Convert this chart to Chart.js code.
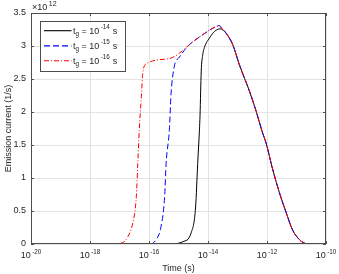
<!DOCTYPE html>
<html lang="en">
<head>
<meta charset="UTF-8">
<title>Emission current</title>
<style>
  html, body { margin: 0; padding: 0; background: #fff; }
  canvas { display: block; }
</style>
</head>
<body>
<canvas id="chart" width="339" height="274"></canvas>
<script src="https://cdn.jsdelivr.net/npm/chart.js"></script>
<script>
    // tick labels
    const xTickExps = ['-20', '-18', '-16', '-14', '-12', '-10'];
    const yTicks = [0, 0.5, 1, 1.5, 2, 2.5, 3, 3.5];
    const yMultiplier = '12';
    const legendExps = ['-14', '-15', '-16'];

    // time (s) and emission current (x 10^12 1/s)
    const tBlack = [1e-19, 4.9e-16, 1.41e-15, 2.69e-15, 3.8e-15, 4.47e-15, 5.13e-15, 5.37e-15, 5.9e-15, 6.6e-15, 7.6e-15, 1.12e-14, 1.66e-14, 2.57e-14, 4.17e-14];
    const iBlack = [0, 0, 0.035, 0.17, 0.56, 1.22, 1.73, 1.95, 2.62, 2.86, 2.98, 3.12, 3.22, 3.26, 3.19];

    const tBlue = [1e-19, 1.05e-16, 1.74e-16, 2.57e-16, 3.39e-16, 3.8e-16, 4.9e-16, 5.6e-16, 7.2e-16, 1.07e-15, 2.34e-15, 6.6e-15, 1.45e-14, 2.34e-14, 3.16e-14, 4.17e-14];
    const iBlue = [0, 0, 0.065, 0.27, 0.72, 1.22, 1.73, 2.28, 2.69, 2.83, 3.02, 3.17, 3.27, 3.31, 3.26, 3.19];

    const tRed = [1e-19, 5e-18, 1.29e-17, 1.91e-17, 2.82e-17, 3.72e-17, 4.17e-17, 4.68e-17, 5.5e-17, 6.17e-17, 8.13e-17, 4.9e-16, 1.07e-15, 2.34e-15, 6.6e-15, 1.45e-14, 2.34e-14, 3.16e-14, 4.17e-14];
    const iRed = [0, 0, 0.02, 0.11, 0.32, 0.72, 1.22, 1.73, 2.23, 2.59, 2.73, 2.81, 2.89, 3.02, 3.17, 3.27, 3.30, 3.25, 3.19];

    // the three curves share the same decay after the peak
    const tDecay = [6.9e-14, 1.17e-13, 2.57e-13, 4.3e-13, 6.9e-13, 9.3e-13, 1.58e-12, 2.63e-12, 4.5e-12, 7.4e-12, 1.26e-11, 1.8e-11, 3e-11, 1e-10];
    const iDecay = [3.02, 2.71, 2.31, 2.01, 1.70, 1.53, 1.12, 0.78, 0.47, 0.21, 0.065, 0.015, 0, 0];

    const FONT = '"Liberation Sans", Arial, Helvetica, sans-serif';
    const INK = '#262626';

    function points(t, v) {
        const ts = t.concat(tDecay), vs = v.concat(iDecay);
        return ts.map((x, i) => ({ x: x, y: vs[i] }));
    }

    // text like 10^-14 : base, then a smaller raised exponent
    function drawPow(ctx, base, exp, x, y, size, supSize, center) {
        ctx.font = size + 'px ' + FONT;
        const wb = ctx.measureText(base).width;
        ctx.font = supSize + 'px ' + FONT;
        const we = ctx.measureText(exp).width;
        const gap = 1.5;
        const x0 = center ? x - (wb + gap + we) / 2 : x;
        ctx.textAlign = 'left';
        ctx.textBaseline = 'alphabetic';
        ctx.font = size + 'px ' + FONT;
        ctx.fillText(base, x0, y);
        ctx.font = supSize + 'px ' + FONT;
        ctx.fillText(exp, x0 + wb + gap, y - size * 0.45);
        return x0 + wb + gap + we;
    }

    const styles = [
        { color: '#000000', dash: [] },
        { color: '#0000ff', dash: [6, 3] },
        { color: '#ff0000', dash: [5, 2, 1, 2] }
    ];

    const decor = {
        id: 'decor',
        afterDraw(chart) {
            const ctx = chart.ctx;
            const a = chart.chartArea;
            const xs = chart.scales.x, ys = chart.scales.y;
            ctx.save();

            // box and inward ticks
            ctx.strokeStyle = '#4d4d4d';
            ctx.lineWidth = 1;
            ctx.setLineDash([]);
            ctx.strokeRect(Math.round(a.left) + 0.5, Math.round(a.top) + 0.5,
                Math.round(a.right - a.left) - 1, Math.round(a.bottom - a.top) - 1);
            ctx.beginPath();
            xTickExps.forEach(e => {
                const px = Math.round(xs.getPixelForValue(Math.pow(10, Number(e)))) + 0.5;
                ctx.moveTo(px, a.bottom); ctx.lineTo(px, a.bottom - 3);
                ctx.moveTo(px, a.top); ctx.lineTo(px, a.top + 3);
            });
            yTicks.forEach(v => {
                const py = Math.round(ys.getPixelForValue(v)) + 0.5;
                ctx.moveTo(a.left, py); ctx.lineTo(a.left + 3, py);
                ctx.moveTo(a.right, py); ctx.lineTo(a.right - 3, py);
            });
            ctx.stroke();

            // x tick labels
            ctx.fillStyle = INK;
            xTickExps.forEach(e => {
                const px = xs.getPixelForValue(Math.pow(10, Number(e)));
                drawPow(ctx, '10', e, px, 258, 9, 6.3, true);
            });

            // y multiplier
            drawPow(ctx, '\u00d710', yMultiplier, a.left + 1, 10, 9, 7, false);

            // axis titles
            ctx.font = '9px ' + FONT;
            ctx.textAlign = 'center';
            ctx.textBaseline = 'alphabetic';
            ctx.fillText('Time (s)', (a.left + a.right) / 2, 271);
            ctx.save();
            ctx.translate(10.5, (a.top + a.bottom) / 2);
            ctx.rotate(-Math.PI / 2);
            ctx.fillText('Emission current (1/s)', 0, 0);
            ctx.restore();

            // legend
            const lx = 40.5, ly = 21.5, lw = 85, lh = 50;
            ctx.fillStyle = '#ffffff';
            ctx.fillRect(lx, ly, lw, lh);
            ctx.strokeStyle = '#4d4d4d';
            ctx.strokeRect(lx, ly, lw, lh);
            const rows = [30.7, 45.9, 60.8];
            rows.forEach((ry, i) => {
                ctx.strokeStyle = styles[i].color;
                ctx.lineWidth = 1.1;
                ctx.setLineDash(styles[i].dash);
                ctx.beginPath();
                ctx.moveTo(44, ry); ctx.lineTo(71.5, ry);
                ctx.stroke();
                ctx.setLineDash([]);
                ctx.fillStyle = INK;
                ctx.textAlign = 'left';
                ctx.textBaseline = 'alphabetic';
                const by = Math.round(ry) + 2.5;
                ctx.font = '9px ' + FONT;
                ctx.fillText('t', 73, by);
                let x = 73 + ctx.measureText('t').width;
                ctx.font = '6.3px ' + FONT;
                ctx.fillText('g', x, by + 2.5);
                x += ctx.measureText('g').width;
                ctx.font = '9px ' + FONT;
                ctx.fillText(' = ', x, by);
                x += ctx.measureText(' = ').width;
                x = drawPow(ctx, '10', legendExps[i], x, by, 9, 6.3, false);
                ctx.font = '9px ' + FONT;
                ctx.fillText(' s', x + 0.5, by);
            });

            ctx.restore();
        }
    };

    const series = [
        { t: tBlack, v: iBlack, order: 2 },
        { t: tBlue, v: iBlue, order: 1 },
        { t: tRed, v: iRed, order: 0 }
    ];

    new Chart(document.getElementById('chart'), {
        type: 'line',
        data: {
            datasets: series.map((s, i) => ({
                label: 't_g = 10^' + legendExps[i] + ' s',
                data: points(s.t, s.v),
                borderColor: styles[i].color,
                borderDash: styles[i].dash,
                borderWidth: 1,
                pointRadius: 0,
                fill: false,
                cubicInterpolationMode: 'monotone',
                order: s.order
            }))
        },
        options: {
            responsive: false,
            animation: false,
            devicePixelRatio: 1,
            layout: { padding: { left: 0, right: 13, top: 13, bottom: 0 } },
            plugins: { legend: { display: false }, tooltip: { enabled: false } },
            scales: {
                x: {
                    type: 'logarithmic',
                    min: 1e-20,
                    max: 1e-10,
                    afterBuildTicks: axis => {
                        axis.ticks = xTickExps.map(e => ({ value: Math.pow(10, Number(e)) }));
                    },
                    afterFit: axis => { axis.height = 30; axis.paddingLeft = 0; axis.paddingRight = 0; },
                    ticks: { display: false },
                    grid: { color: '#e3e3e3', drawTicks: false },
                    border: { display: false }
                },
                y: {
                    min: 0,
                    max: 3.5,
                    afterBuildTicks: axis => {
                        axis.ticks = yTicks.map(v => ({ value: v }));
                    },
                    afterFit: axis => { axis.width = 31; },
                    ticks: {
                        padding: 5,
                        color: INK,
                        font: { family: FONT, size: 9 },
                        callback: v => String(v)
                    },
                    grid: { color: '#e3e3e3', drawTicks: false },
                    border: { display: false }
                }
            }
        },
        plugins: [decor]
    });
</script>
</body>
</html>
